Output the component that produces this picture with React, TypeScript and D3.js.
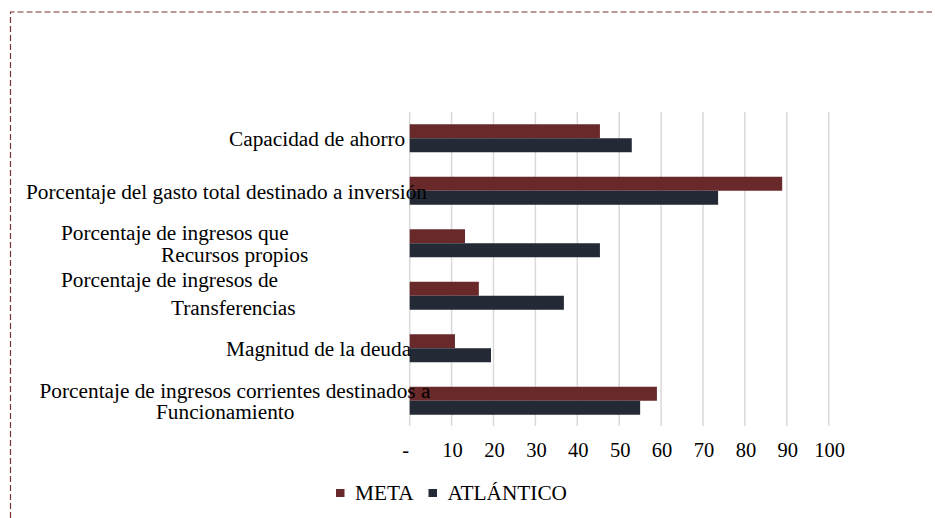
import { useEffect, useRef } from 'react';
import * as d3 from 'd3';

const categories = [
  'Capacidad de ahorro',
  'Porcentaje del gasto total destinado a inversión',
  'Porcentaje de ingresos que Recursos propios',
  'Porcentaje de ingresos de Transferencias',
  'Magnitud de la deuda',
  'Porcentaje de ingresos corrientes destinados a Funcionamiento',
];

// label text as it wraps in the original
const labelLines = [
  ['Capacidad de ahorro'],
  ['Porcentaje del gasto total destinado a inversión'],
  ['Porcentaje de ingresos que', 'Recursos propios'],
  ['Porcentaje de ingresos de', 'Transferencias'],
  ['Magnitud de la deuda'],
  ['Porcentaje de ingresos corrientes destinados a', 'Funcionamiento'],
];

const seriesNames = ['META', 'ATLÁNTICO'];
const metaValues = [45.4, 88.9, 13.2, 16.5, 10.8, 59.0];
const atlanticoValues = [53.0, 73.6, 45.4, 36.8, 19.4, 55.0];
const xTicks = [0, 10, 20, 30, 40, 50, 60, 70, 80, 90, 100];

// where each label line starts (x) and its baseline offset from the band centre
const labelLayout = [
  [{ x: 229, dy: 8 }],
  [{ x: 26, dy: 8 }],
  [{ x: 61, dy: -3 }, { x: 161, dy: 18.5 }],
  [{ x: 61, dy: -9 }, { x: 171, dy: 19.5 }],
  [{ x: 226, dy: 8 }],
  [{ x: 39.5, dy: -3 }, { x: 156, dy: 18.5 }],
];

const colors = { META: '#69292b', 'ATLÁNTICO': '#232a35' };

const BarChart = () => {
  const svgRef = useRef<SVGSVGElement>(null);

  useEffect(() => {
    const width = 935;
    const height = 518;
    const font = '"Liberation Serif", "Times New Roman", serif';

    const svg = d3.select(svgRef.current)
      .attr('width', width)
      .attr('height', height);

    svg.selectAll('*').remove();

    // dashed frame: only top and left edges fall inside the picture
    svg.append('path')
      .attr('d', `M10.5,${height} L10.5,12 L932,12`)
      .attr('fill', 'none')
      .attr('stroke', '#7a3335')
      .attr('stroke-width', 1.2)
      .attr('stroke-dasharray', '6,3');

    const xScale = d3.scaleLinear()
      .domain([0, 100])
      .range([409.7, 828.7]);

    const yScale = d3.scaleBand()
      .domain(categories)
      .range([112, 427]);

    const inner = d3.scaleBand()
      .domain(seriesNames)
      .range([0, yScale.bandwidth()])
      .paddingOuter(0.875);

    // grid lines
    svg.append('g')
      .selectAll('line')
      .data(xTicks)
      .enter()
      .append('line')
      .attr('x1', d => xScale(d))
      .attr('x2', d => xScale(d))
      .attr('y1', 112)
      .attr('y2', 426)
      .attr('stroke', '#d9d9d9')
      .attr('stroke-width', 1.5);

    // tick labels
    svg.append('g')
      .selectAll('text')
      .data(xTicks)
      .enter()
      .append('text')
      .attr('x', d => xScale(d) + (d === 0 ? -4 : 1))
      .attr('y', 457)
      .attr('text-anchor', 'middle')
      .attr('font-family', font)
      .attr('font-size', 20.5)
      .attr('fill', '#000')
      .text(d => (d === 0 ? '-' : d3.format('d')(d)));

    // bars
    const rows = categories.map((c, i) => ({
      category: c,
      values: [
        { name: 'META', value: metaValues[i] },
        { name: 'ATLÁNTICO', value: atlanticoValues[i] },
      ],
    }));

    svg.append('g')
      .selectAll('g.row')
      .data(rows)
      .enter()
      .append('g')
      .attr('class', 'row')
      .attr('transform', d => `translate(0, ${yScale(d.category)})`)
      .each(function (d) {
        d3.select(this)
          .selectAll('rect')
          .data(d.values)
          .enter()
          .append('rect')
          .attr('x', xScale(0))
          .attr('y', v => inner(v.name)!)
          .attr('width', v => xScale(v.value) - xScale(0))
          .attr('height', inner.bandwidth())
          .attr('fill', v => colors[v.name as keyof typeof colors]);
      });

    // category labels (drawn over the bars, as in the original)
    const labels = svg.append('g');
    categories.forEach((c, i) => {
      const cy = yScale(c)! + yScale.bandwidth() / 2;
      labelLines[i].forEach((line, j) => {
        labels.append('text')
          .attr('x', labelLayout[i][j].x)
          .attr('y', cy + labelLayout[i][j].dy)
          .attr('font-family', font)
          .attr('font-size', 21.3)
          .attr('fill', '#000')
          .text(line);
      });
    });

    // legend
    const legend = svg.append('g');
    const legendX = [336, 428.5];
    seriesNames.forEach((name, i) => {
      legend.append('rect')
        .attr('x', legendX[i])
        .attr('y', 489)
        .attr('width', 8.5)
        .attr('height', 8)
        .attr('fill', colors[name as keyof typeof colors]);
      legend.append('text')
        .attr('x', legendX[i] + 19)
        .attr('y', 499.5)
        .attr('font-family', font)
        .attr('font-size', 21.3)
        .attr('fill', '#000')
        .text(name);
    });
  }, []);

  return <svg ref={svgRef} style={{ position: 'absolute', left: 0, top: 0, display: 'block' }}></svg>;
};

export default function App() {
  return <BarChart />;
}
